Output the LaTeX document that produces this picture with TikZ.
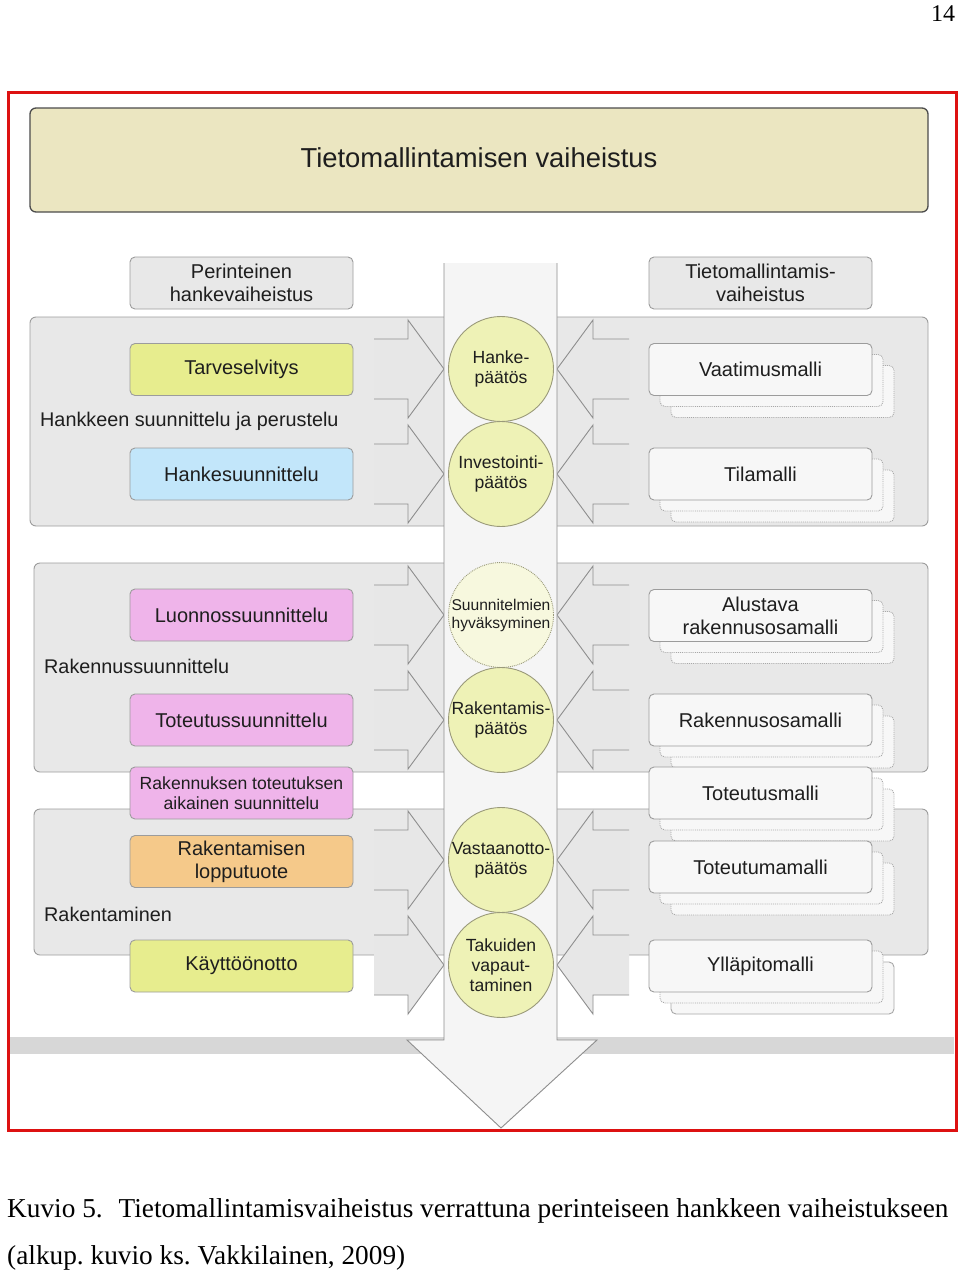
\documentclass[tikz,border=0pt]{standalone}
\usepackage{fontspec}
\setmainfont{Liberation Sans}
\newfontfamily\seriffont{Liberation Serif}
\definecolor{panelf}{HTML}{E8E8E8}
\definecolor{panell}{HTML}{9C9C9C}
\definecolor{arrowf}{HTML}{E7E7E7}
\definecolor{arrowl}{HTML}{8E8E8E}
\definecolor{yel}{HTML}{E7ED8E}
\definecolor{blu}{HTML}{C2E6FA}
\definecolor{pnk}{HTML}{EFB4EA}
\definecolor{org}{HTML}{F5C98A}
\definecolor{circf}{HTML}{EEF2B6}
\definecolor{circlf}{HTML}{F7F8DE}
\definecolor{circline}{HTML}{9A9A7A}
\definecolor{modelf}{HTML}{F7F7F7}
\definecolor{shadowl}{HTML}{A8A8A8}
\definecolor{titlef}{HTML}{EBE6C1}
\definecolor{txtc}{HTML}{1E1E1E}
\definecolor{shaftf}{HTML}{F5F5F5}
\definecolor{bandf}{HTML}{D7D7D7}
\definecolor{framec}{HTML}{DD1111}
\tikzset{
  boxtxt/.style={font=\fontsize{20}{23}\selectfont, text=txtc, align=center},
  leftbox/.style={boxtxt, draw=panell, line width=0.9pt, rounded corners=5pt,
    minimum width=223pt, minimum height=52pt, inner sep=0pt},
  modelbox/.style={leftbox, fill=modelf},
  headbox/.style={leftbox, fill=panelf},
  panel/.style={fill=panelf, draw=panell, line width=0.9pt, rounded corners=6pt},
  grouplabel/.style={font=\fontsize{19.8}{23}\selectfont, text=txtc, anchor=west, inner sep=0pt},
  decision/.style={circle, draw=circline, line width=0.9pt, fill=circf, minimum size=105pt,
    inner sep=0pt, align=center, text=txtc, font=\fontsize{17.6}{20}\selectfont},
  chevfill/.style={fill=arrowf},
  chevline/.style={draw=arrowl, line width=0.9pt, line join=miter},
}
\newcommand\chevL[1]{%
  \fill[chevfill] (374,#1-30) -- (408,#1-30) -- (408,#1-49) -- (444,#1) -- (408,#1+49) -- (408,#1+30) -- (374,#1+30) -- cycle;
  \draw[chevline] (374,#1-30) -- (408,#1-30) -- (408,#1-49) -- (444,#1) -- (408,#1+49) -- (408,#1+30) -- (374,#1+30);}
\newcommand\chevR[1]{%
  \fill[chevfill] (629,#1-30) -- (593,#1-30) -- (593,#1-49) -- (557,#1) -- (593,#1+49) -- (593,#1+30) -- (629,#1+30) -- cycle;
  \draw[chevline] (629,#1-30) -- (593,#1-30) -- (593,#1-49) -- (557,#1) -- (593,#1+49) -- (593,#1+30) -- (629,#1+30);}
\newcommand\mshadow[2][densely dotted]{%
  \draw[#1, draw=shadowl, line width=0.9pt, fill=modelf, rounded corners=5pt] (671,#2-4) rectangle (894,#2+48);
  \draw[densely dotted, draw=shadowl, line width=0.9pt, fill=modelf, rounded corners=5pt] (660,#2-15) rectangle (883,#2+37);}
\begin{document}
\begin{tikzpicture}[x=1pt,y=-1pt]
\useasboundingbox (0,0) rectangle (960,1275);
\fill[white] (0,0) rectangle (960,1275);

% page number
\node[font=\seriffont\fontsize{24}{28}\selectfont, inner sep=0pt] (pagenum) at (943,14) {14};

% grey band
\fill[bandf] (10,1037) rectangle (954,1054);

% title
\node[draw=black!70, line width=1.3pt, fill=titlef, rounded corners=6pt,
  minimum width=898pt, minimum height=104pt, inner sep=0pt] (title) at (479,160) {};
\node[font=\fontsize{27.4}{32}\selectfont, text=txtc, inner sep=0pt] (titletext) at (479,158) {Tietomallintamisen vaiheistus};

% header boxes
\node[headbox] (hdrL) at (241.5,283) {Perinteinen\\hankevaiheistus};
\node[headbox] (hdrR) at (760.5,283) {Tietomallintamis-\\vaiheistus};

% group panels
\draw[panel] (30,317) rectangle (928,526);
\draw[panel] (34,563) rectangle (928,772);
\draw[panel] (34,809) rectangle (928,955);

% chevrons
\foreach \yy in {369,474,615,720,860,965}{\chevL{\yy}\chevR{\yy}}

% central arrow
\fill[shaftf] (444,263) -- (444,1040) -- (407,1040) -- (501,1128) -- (597,1040) -- (557,1040) -- (557,263) -- cycle;
\draw[draw=arrowl, line width=0.9pt, line join=miter] (444,263) -- (444,1040) -- (407,1040) -- (501,1128) -- (597,1040) -- (557,1040) -- (557,263);

% decision circles
\node[decision] (c1) at (501,369) {Hanke-\\päätös};
\node[decision] (c2) at (501,474) {Investointi-\\päätös};
\node[decision, fill=circlf, densely dotted, font=\fontsize{15.6}{18}\selectfont] (c3) at (501,615) {Suunnitelmien\\hyväksyminen};
\node[decision] (c4) at (501,720) {Rakentamis-\\päätös};
\node[decision] (c5) at (501,860) {Vastaanotto-\\päätös};
\node[decision] (c6) at (501,965) {Takuiden\\vapaut-\\taminen};

% group labels
\node[grouplabel] (g1) at (40,421) {Hankkeen suunnittelu ja perustelu};
\node[grouplabel] (g2) at (44,666) {Rakennussuunnittelu};
\node[grouplabel] (g3) at (44,914) {Rakentaminen};

% left boxes
\node[leftbox, fill=yel] (tarve) at (241.5,369.5) {Tarveselvitys};
\node[leftbox, fill=blu] (hanke) at (241.5,474) {Hankesuunnittelu};
\node[leftbox, fill=pnk] (luonnos) at (241.5,615) {Luonnossuunnittelu};
\node[leftbox, fill=pnk] (toteutus) at (241.5,720) {Toteutussuunnittelu};
\node[leftbox, fill=pnk, font=\fontsize{17.6}{20}\selectfont] (aikainen) at (241.5,793) {Rakennuksen toteutuksen\\aikainen suunnittelu};
\node[leftbox, fill=org] (lopputuote) at (241.5,861.5) {Rakentamisen\\lopputuote};
\node[leftbox, fill=yel] (kaytto) at (241.5,966) {Käyttöönotto};

% right model boxes
\mshadow{369.5}\node[modelbox] (m1) at (760.5,369.5) {Vaatimusmalli};
\mshadow{474}\node[modelbox] (m2) at (760.5,474) {Tilamalli};
\mshadow{615.5}\node[modelbox] (m3) at (760.5,615.5) {Alustava\\rakennusosamalli};
\mshadow{720}\node[modelbox] (m4) at (760.5,720) {Rakennusosamalli};
\mshadow{793}\node[modelbox] (m5) at (760.5,793) {Toteutusmalli};
\mshadow{867}\node[modelbox] (m6) at (760.5,867) {Toteutumamalli};
\mshadow[solid]{966}\node[modelbox] (m7) at (760.5,966) {Ylläpitomalli};

% red frame
\draw[framec, line width=3pt] (8,92) rectangle (956,1130);

% caption
\node[font=\seriffont\fontsize{27.3}{30}\selectfont\frenchspacing, anchor=west, inner sep=0pt] (cap1) at (7,1211)
  {Kuvio 5.\hspace{9pt} Tietomallintamisvaiheistus verrattuna perinteiseen hankkeen vaiheistukseen};
\node[font=\seriffont\fontsize{27.3}{30}\selectfont\frenchspacing, anchor=west, inner sep=0pt] (cap2) at (7,1258)
  {(alkup. kuvio ks. Vakkilainen, 2009)};
\end{tikzpicture}
\end{document}
